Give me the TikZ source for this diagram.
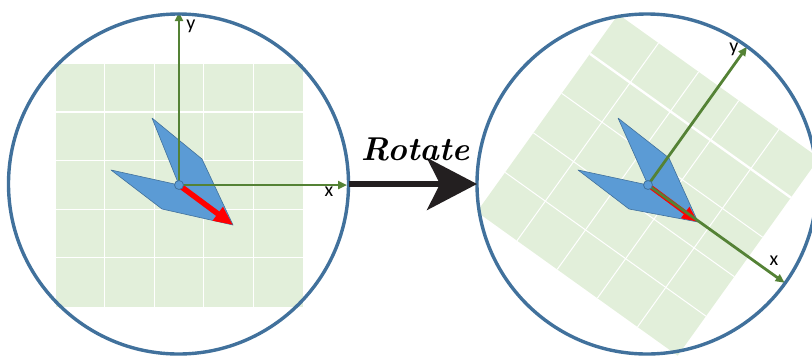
\documentclass[tikz,border=0pt]{standalone}
\usepackage{fontspec}
\newfontfamily\labfont{Carlito}
\usetikzlibrary{arrows.meta}
\definecolor{gridgreen}{RGB}{226,239,218}
\definecolor{ringblue}{RGB}{65,113,156}
\definecolor{axisgreen}{RGB}{84,130,53}
\definecolor{shapeblue}{RGB}{91,155,213}
\definecolor{shapeedge}{RGB}{65,113,156}
\definecolor{arrowblack}{RGB}{35,31,32}
\tikzset{
 ring/.style={circle, draw=ringblue, line width=3.4pt, minimum size=340pt, inner sep=0pt, outer sep=0pt},
 axis/.style={draw=axisgreen, line width=2.8pt, -{Triangle[length=9pt,width=8pt]}},
 axislabel/.style={font=\labfont\fontsize{20}{20}\selectfont, inner sep=0pt, text=black},
 gridline/.style={white, line width=1pt},
 gridthick/.style={white, line width=2.4pt},
 wing/.style={fill=shapeblue, draw=shapeedge, line width=0.6pt, line join=round},
 heading/.style={red, line width=5.5pt, -{Triangle[length=19pt,width=16pt]}},
 pivot/.style={circle, fill=shapeblue, draw=shapeedge, line width=0.8pt, minimum size=9pt, inner sep=0pt},
 bigarrow/.style={draw=arrowblack, line width=5.5pt, -{Stealth[length=50pt,width=52pt,inset=13pt]}},
}
\newcommand{\gridpatch}{%
 \fill[gridgreen] (-123.5,-121.5) rectangle (123.5,121.5);
 \foreach \i in {1,...,4} {\draw[gridline] ({-123.5+49.4*\i},-121.5) -- ({-123.5+49.4*\i},121.5);}
 \foreach \i in {2,3,4} {\draw[gridline] (-123.5,{-121.5+48.6*\i}) -- (123.5,{-121.5+48.6*\i});}
 \draw[gridthick] (-123.5,-72.9) -- (123.5,-72.9);
}
\begin{document}
\begin{tikzpicture}[x=1pt,y=-1pt]
\useasboundingbox (0,0) rectangle (812,357);
% ---------- left panel ----------
\begin{scope}[shift={(179,185)}]
 \gridpatch
\end{scope}
\coordinate (oL) at (179,185);
\coordinate (xL) at (347,185);
\coordinate (yL) at (179,12);
\draw[wing] (oL) -- (152,118) -- (202,159) -- (233,225) -- (162,209) -- (111,170) -- cycle;
\coordinate (hL) at (233,225);
\draw[heading] (oL) -- (hL);
\draw[axis] (oL) -- (xL);
\draw[axis] (oL) -- (yL);
\node[pivot] (pL) at (oL) {};
\node[axislabel] (lxL) at (329,192) {x};
\node[axislabel] (lyL) at (191,26) {y};
% ---------- right panel ----------
\begin{scope}[shift={(648,185)}, rotate=-35.6]
 \gridpatch
 \coordinate (xR) at (168,0);
 \coordinate (yR) at (0,-170);
\end{scope}
\coordinate (oR) at (648,185);
\draw[wing] (oR) -- (618,118) -- (669,158) -- (698,222) -- (629,209) -- (578,170) -- cycle;
\coordinate (hR) at (698,222);
\draw[heading, line width=4.5pt, -{Triangle[length=16pt,width=13pt]}] (oR) -- (hR);
\draw[axis] (oR) -- (xR);
\draw[axis] (oR) -- (yR);
\node[pivot] (pR) at (oR) {};
\node[axislabel] (lxR) at (774,261) {x};
\node[axislabel] (lyR) at (734,49) {y};
% ---------- rings ----------
\node[ring] (cL) at (178.5,184) {};
\node[ring] (cR) at (647,184) {};
% ---------- rotate arrow ----------
\draw[bigarrow] (cL.east) -- (cR.west);
\node[font=\bfseries\itshape\fontsize{33}{33}\selectfont\addfontfeatures{LetterSpace=10,FakeBold=1.2}, inner sep=0pt] (rot) at (415,149) {Rotate};
\end{tikzpicture}
\end{document}
